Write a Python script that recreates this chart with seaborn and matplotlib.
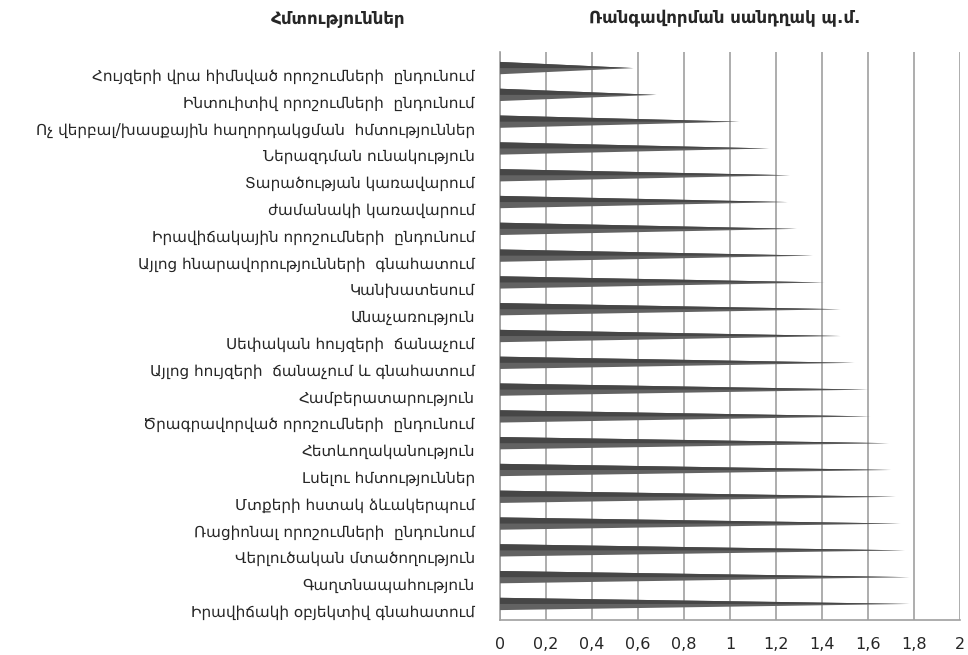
import matplotlib
matplotlib.use("Agg")
import matplotlib.pyplot as plt
import matplotlib.transforms as mtransforms
import seaborn as sns
import pandas as pd
from matplotlib.patches import Polygon

# skills (top to bottom) and ranking score
skills = [
    "Հույզերի վրա հիմնված որոշումների  ընդունում",
    "Ինտուիտիվ որոշումների  ընդունում",
    "Ոչ վերբալ/խասքային հաղորդակցման  հմտություններ",
    "Ներազդման ունակություն",
    "Տարածության կառավարում",
    "ժամանակի կառավարում",
    "Իրավիճակային որոշումների  ընդունում",
    "Այլոց հնարավորությունների  գնահատում",
    "Կանխատեսում",
    "Անաչառություն",
    "Սեփական հույզերի  ճանաչում",
    "Այլոց հույզերի  ճանաչում և գնահատում",
    "Համբերատարություն",
    "Ծրագրավորված որոշումների  ընդունում",
    "Հետևողականություն",
    "Լսելու հմտություններ",
    "Մտքերի հստակ ձևակերպում",
    "Ռացիոնալ որոշումների  ընդունում",
    "Վերլուծական մտածողություն",
    "Գաղտնապահություն",
    "Իրավիճակի օբյեկտիվ գնահատում",
]
scores = [0.58, 0.68, 1.04, 1.17, 1.26, 1.25, 1.29, 1.36, 1.41, 1.48, 1.48,
          1.54, 1.60, 1.61, 1.69, 1.70, 1.72, 1.74, 1.76, 1.78, 1.78]
xticks = [0, 0.2, 0.4, 0.6, 0.8, 1, 1.2, 1.4, 1.6, 1.8, 2]
xtick_labels = ["0", "0,2", "0,4", "0,6", "0,8", "1", "1,2", "1,4", "1,6", "1,8", "2"]

df = pd.DataFrame({"skill": skills, "score": scores})

sns.set_style("white")
plt.rcParams["font.family"] = ["DejaVu Sans"]

fig = plt.figure(figsize=(9.68, 6.55), dpi=100)
ax = fig.add_axes([0.5165, 0.0534, 0.4752, 0.8672])

sns.barplot(data=df, x="score", y="skill", orient="h", color="#555555", width=0.46, ax=ax)

# turn the bars into cones pointing right
for p in list(ax.patches):
    x0, y0 = p.get_x(), p.get_y()
    w, h = p.get_width(), p.get_height()
    ax.add_patch(Polygon([(x0, y0), (x0 + w, y0 + h / 2), (x0, y0 + h)],
                         closed=True, facecolor="#626262", edgecolor="none", zorder=3))
    ax.add_patch(Polygon([(x0, y0), (x0 + w, y0 + h / 2), (x0, y0 + h / 2)],
                         closed=True, facecolor="#464646", edgecolor="none", zorder=3))
    p.remove()

ax.set_xlim(0, 2)
ax.set_ylim(len(skills) - 0.4, -0.6)
ax.set_xticks(xticks)
ax.set_xticklabels(xtick_labels, fontsize=11.5)
ax.tick_params(axis="x", length=0, pad=12)
ax.tick_params(axis="y", length=0, pad=18, labelsize=11)
ax.set_xlabel("")
ax.set_ylabel("")
ax.grid(axis="x", color="#a0a0a0", linewidth=1.2, zorder=0)
ax.set_axisbelow(True)
for s in ["top", "right"]:
    ax.spines[s].set_visible(False)
for s in ["left", "bottom"]:
    ax.spines[s].set_color("#a0a0a0")
    ax.spines[s].set_linewidth(1.2)

# category labels sit a little below the cones (3D look of the original)
shift = mtransforms.ScaledTranslation(0, -5 / 72, fig.dpi_scale_trans)
for lab in ax.get_yticklabels():
    lab.set_transform(lab.get_transform() + shift)

fig.text(0.349, 0.972, "Հմտություններ", ha="center", va="center",
         fontsize=12, fontweight="bold")
fig.text(0.749, 0.972, "Ռանգավորման սանդղակ պ.մ.", ha="center", va="center",
         fontsize=12, fontweight="bold")

fig.savefig("out.png", dpi=100, facecolor="white")
